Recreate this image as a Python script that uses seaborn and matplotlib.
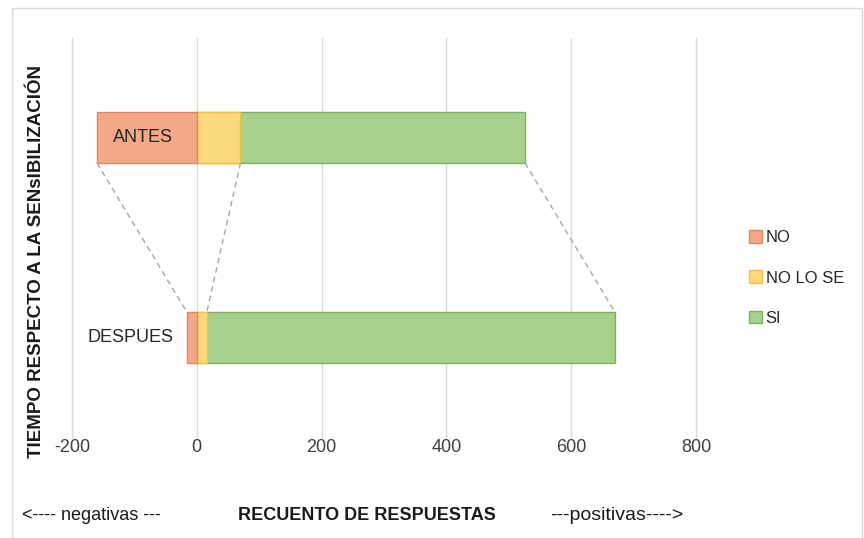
import matplotlib
matplotlib.use("Agg")
import matplotlib.pyplot as plt
import matplotlib.patches as mpatches
import pandas as pd
import seaborn as sns

# datos
tiempos = ["ANTES", "DESPUES"]
resp_no = [-160, -16]
resp_no_lo_se = [70, 16]
resp_si = [456, 654]

series = ["NO", "NO LO SE", "SI"]
colores = ["#F4A886", "#FED97C", "#A9D18E"]
bordes = ["#E3875F", "#F2C13F", "#7FB25D"]

df = pd.DataFrame({"tiempo": tiempos, "no": resp_no,
                   "nolose": resp_no_lo_se, "si": resp_si})
df["fin_si"] = df["nolose"] + df["si"]

sns.set_theme(style="white")
plt.rcParams["font.family"] = ["Liberation Sans", "DejaVu Sans"]
plt.rcParams["axes.unicode_minus"] = False

fig = plt.figure(figsize=(8.64, 5.38), dpi=100)
ax = fig.add_axes([72 / 864, 1 - 437.5 / 538, 624 / 864, 400 / 538])

ancho = 0.255
# barras apiladas: se dibuja primero el acumulado mas largo
sns.barplot(data=df, x="fin_si", y="tiempo", orient="h", color=colores[2],
            edgecolor=bordes[2], linewidth=1, width=ancho, ax=ax, saturation=1)
sns.barplot(data=df, x="nolose", y="tiempo", orient="h", color=colores[1],
            edgecolor=bordes[1], linewidth=1, width=ancho, ax=ax, saturation=1)
sns.barplot(data=df, x="no", y="tiempo", orient="h", color=colores[0],
            edgecolor=bordes[0], linewidth=1, width=ancho, ax=ax, saturation=1)

# lineas de serie (discontinuas) entre las dos barras
for col in ["no", "nolose", "fin_si"]:
    ax.plot([df[col][0], df[col][1]], [ancho / 2, 1 - ancho / 2],
            ls=(0, (4, 3)), color="#A6A6A6", lw=1, zorder=1)

ax.set_xlim(-200, 800)
ax.set_ylim(1.5, -0.5)
ax.set_xticks([-200, 0, 200, 400, 600, 800])
ax.grid(axis="x", color="#D9D9D9", lw=1)
for g in ax.xaxis.get_gridlines():
    g.set_clip_on(False)
ax.set_axisbelow(True)
for s in ax.spines.values():
    s.set_visible(False)
ax.tick_params(axis="x", length=0, pad=1, labelsize=13, labelcolor="#404040")
ax.set_yticks([])
ax.set_xlabel("")
ax.set_ylabel("TIEMPO RESPECTO A LA SENsIBILIZACIÓN", fontsize=13.5,
              fontweight="bold", color="#1a1a1a")
ax.yaxis.set_label_coords(-27 / 624, 0.44)

# etiquetas de categoria junto al eje 0
for i, t in enumerate(tiempos):
    ax.annotate(t, xy=(0, i), xytext=(-17, 0), textcoords="offset points",
                ha="right", va="center", fontsize=13, color="#262626")

handles = [mpatches.Patch(facecolor=c, edgecolor=b, label=s)
           for s, c, b in zip(series, colores, bordes)]
fig.legend(handles=handles, loc="center left", bbox_to_anchor=(734 / 864, 1 - 278 / 538),
           frameon=False, fontsize=12, handlelength=0.8, handleheight=0.8,
           handletextpad=0.2, labelspacing=1.5, labelcolor="#262626")

fig.text(22 / 864, 1 - 516 / 538, "<---- negativas ---", fontsize=13,
         va="center", color="#1a1a1a")
fig.text(238 / 864, 1 - 516 / 538, "RECUENTO DE RESPUESTAS", fontsize=13,
         fontweight="bold", va="center", color="#1a1a1a")
fig.text(550 / 864, 1 - 516 / 538, "---positivas---->", fontsize=14,
         va="center", color="#1a1a1a")

# marco del area del grafico
fig.patches.append(mpatches.Rectangle((12 / 864, -0.01), 850 / 864, 1 - 8 / 538 + 0.01,
                                      transform=fig.transFigure, fill=False,
                                      edgecolor="#D9D9D9", lw=1))

fig.savefig("out.png", dpi=100)
